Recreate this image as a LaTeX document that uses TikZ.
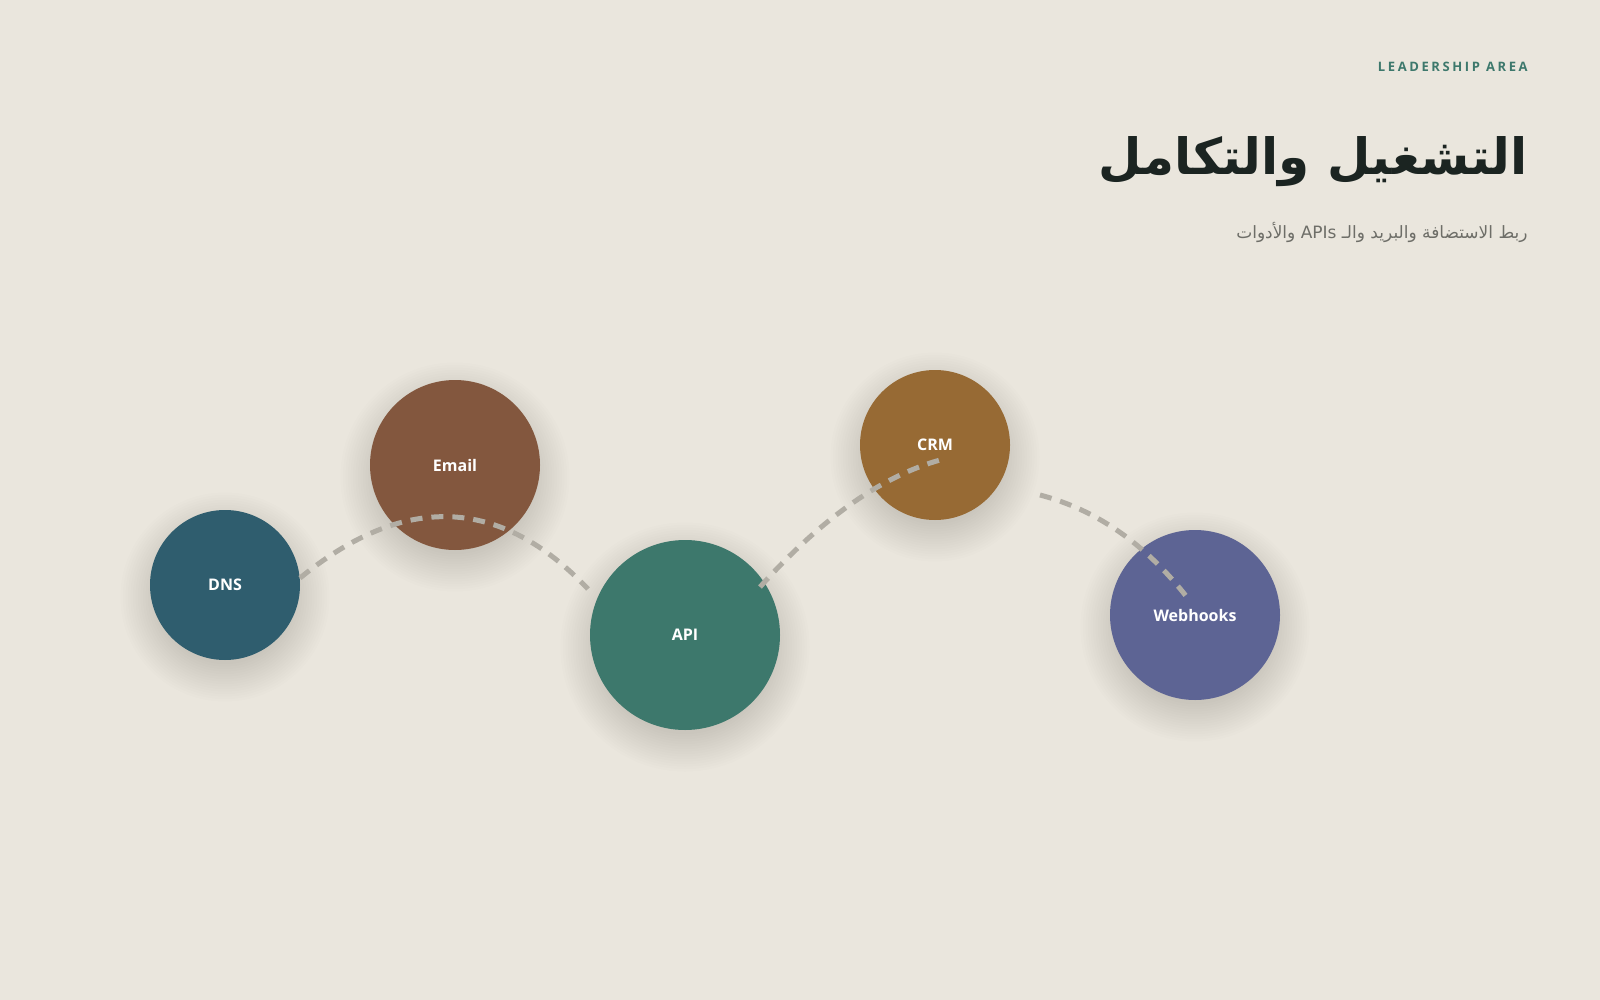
\documentclass[tikz,border=0pt]{standalone}
\usepackage{fontspec}
\setmainfont{Open Sans}
\newfontfamily\arabicfont[Script=Arabic]{DejaVu Sans}
\newfontfamily\spacedfont{Open Sans}[LetterSpace=20]
\TeXXeTstate=1
\usetikzlibrary{calc}
\definecolor{bgcol}{HTML}{EAE6DD}
\definecolor{dnscol}{HTML}{2F5D6E}
\definecolor{emailcol}{HTML}{83573E}
\definecolor{apicol}{HTML}{3D786C}
\definecolor{crmcol}{HTML}{976A34}
\definecolor{hookcol}{HTML}{5D6494}
\definecolor{linkcol}{HTML}{B1ADA4}
\definecolor{titlecol}{HTML}{1B2421}
\definecolor{subcol}{HTML}{6E6E68}
\definecolor{shadowcol}{HTML}{5A4B37}
\tikzset{
  hub/.style={circle, inner sep=0pt, text=white, font=\bfseries\fontsize{8}{9.6}\selectfont},
  link/.style={draw=linkcol, line width=2.5pt, dash pattern=on 6pt off 4.5pt},
}
\newcommand{\softshadow}[2]{%
  \foreach \k in {0,...,15}{%
    \fill[shadowcol, opacity=0.011] ($(#1)+(0,12)$) circle[radius={(#2-8+2.5*\k)*0.5pt}];
  }%
}
\begin{document}
\begin{tikzpicture}[x=0.5pt, y=-0.5pt]
\fill[bgcol] (0,0) rectangle (1600,1000);
\useasboundingbox (0,0) rectangle (1600,1000);

% positions
\coordinate (pdns) at (225,585);
\coordinate (pemail) at (455,465);
\coordinate (papi) at (685,635);
\coordinate (pcrm) at (935,445);
\coordinate (phook) at (1195,615);

% shadows
\softshadow{pdns}{75}
\softshadow{pemail}{85}
\softshadow{papi}{95}
\softshadow{pcrm}{75}
\softshadow{phook}{85}

% hubs
\node[hub, fill=dnscol, minimum size=75pt] (dns) at (pdns) {DNS};
\node[hub, fill=emailcol, minimum size=85pt] (email) at (pemail) {Email};
\node[hub, fill=apicol, minimum size=95pt] (api) at (papi) {API};
\node[hub, fill=crmcol, minimum size=75pt] (crm) at (pcrm) {CRM};
\node[hub, fill=hookcol, minimum size=85pt] (hook) at (phook) {Webhooks};

% connector end points
\coordinate (l1s) at ($(dns)+(75,-7)$);
\coordinate (l1e) at ($(api)+(-97,-46)$);
\coordinate (l2s) at ($(api)+(75,-48)$);
\coordinate (l2e) at ($(crm)+(5,15)$);
\coordinate (l3s) at ($(crm)+(105,50)$);
\coordinate (l3e) at ($(hook)+(-9,-19)$);

\draw[link] (l1s) .. controls ($(email)+(-51,28)$) and ($(email)+(45,31)$) .. (l1e);
\draw[link] (l2s) .. controls ($(api)+(135,-115)$) and ($(crm)+(-55,32)$) .. (l2e);
\draw[link] (l3s) .. controls ($(crm)+(162,65)$) and ($(hook)+(-50,-71)$) .. (l3e);

% header texts
\node[anchor=base east, inner sep=0pt, text=apicol, font=\spacedfont\bfseries\fontsize{6.5}{8}\selectfont] (kicker) at (1528,71.5) {LEADERSHIP AREA};
\node[anchor=base east, inner sep=0pt, text=titlecol, font=\arabicfont\bfseries\fontsize{25}{30}\selectfont] (title) at (1528,175) {\beginR التشغيل والتكامل\endR};
\node[anchor=base east, inner sep=0pt, text=subcol, font=\arabicfont\fontsize{8.5}{10}\selectfont] (sub) at (1528,239) {\beginR ربط الاستضافة والبريد والـ \beginL APIs\endL{} والأدوات\endR};
\end{tikzpicture}
\end{document}
